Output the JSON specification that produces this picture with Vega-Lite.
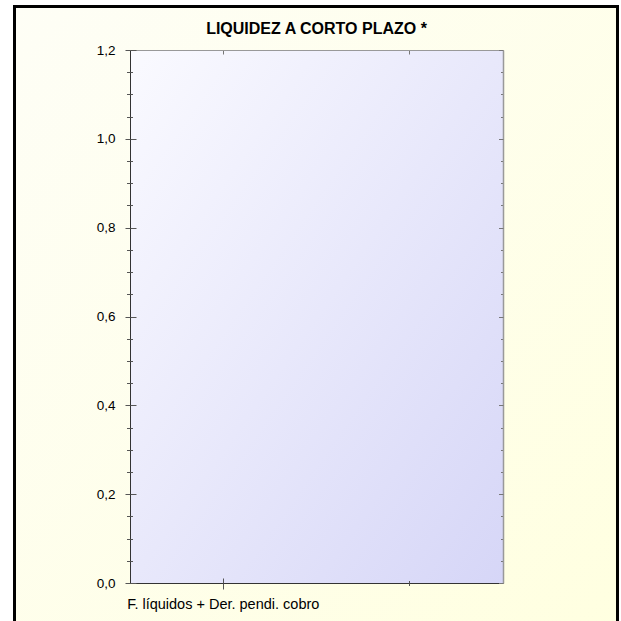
{
  "$schema": "https://vega.github.io/schema/vega-lite/v6.json",
  "width": 373,
  "height": 533,
  "autosize": {"type": "none"},
  "padding": {"left": 130, "top": 50, "right": 118, "bottom": 38},
  "background": "white",
  "title": {
    "text": "LIQUIDEZ A CORTO PLAZO *",
    "font": "Liberation Sans",
    "fontSize": 16,
    "fontWeight": "bold",
    "color": "#000000",
    "anchor": "middle",
    "frame": "group",
    "baseline": "alphabetic",
    "offset": -45
  },
  "data": {
    "values": [
      {"concepto": "F. líquidos + Der. pendi. cobro", "valor": 0},
      {"concepto": " ", "valor": 0}
    ]
  },
  "layer": [
    {
      "data": {"values": [{}]},
      "layer": [
        {
          "mark": {
            "type": "rect",
            "stroke": "#000000",
            "strokeWidth": 3,
            "clip": false,
            "fill": {
              "gradient": "linear",
              "x1": 0, "y1": 0, "x2": 1, "y2": 1,
              "stops": [
                {"offset": 0, "color": "#fefef6"},
                {"offset": 1, "color": "#ffffe0"}
              ]
            }
          },
          "encoding": {
            "x": {"datum": -0.30965, "type": "quantitative", "scale": {"domain": [0, 1], "nice": false, "zero": false}, "axis": null},
            "x2": {"datum": 1.30697},
            "y": {"datum": 1.29794, "type": "quantitative", "scale": {"domain": [0, 1.2], "nice": false}, "axis": null},
            "y2": {"datum": -0.12}
          }
        },
        {
          "mark": {
            "type": "rect",
            "clip": false,
            "fill": {
              "gradient": "linear",
              "x1": 0, "y1": 0, "x2": 1, "y2": 1,
              "stops": [
                {"offset": 0, "color": "#fafaff"},
                {"offset": 1, "color": "#d6d6f7"}
              ]
            }
          },
          "encoding": {
            "x": {"datum": 0, "type": "quantitative", "scale": {"domain": [0, 1], "nice": false, "zero": false}, "axis": null},
            "x2": {"datum": 1},
            "y": {"datum": 0, "type": "quantitative", "scale": {"domain": [0, 1.2], "nice": false}, "axis": null},
            "y2": {"datum": 1.2}
          }
        }
      ]
    },
    {
      "layer": [
        {
          "mark": {"type": "bar"},
          "encoding": {
            "x": {
              "field": "concepto", "type": "nominal",
              "sort": ["F. líquidos + Der. pendi. cobro", " "],
              "scale": {"paddingInner": 0, "paddingOuter": 0},
              "axis": {
                "orient": "bottom", "title": null, "zindex": 2,
                "values": ["F. líquidos + Der. pendi. cobro"],
                "tickSize": 6, "labelPadding": 8, "labelAngle": 0,
                "labelLimit": 0, "labelOverlap": false,
                "labelFontSize": 14.5,
                "domain": true, "domainColor": "#333333"
              }
            },
            "y": {
              "field": "valor", "type": "quantitative",
              "scale": {"domain": [0, 1.2], "nice": false},
              "axis": {
                "orient": "left", "title": null, "zindex": 2,
                "values": [0, 0.2, 0.4, 0.6, 0.8, 1.0, 1.2],
                "tickSize": 5, "labelPadding": 10,
                "labelFontSize": 13.5,
                "labelExpr": "replace(format(datum.value, '.1f'), '.', ',')",
                "domain": true, "domainColor": "#333333"
              }
            }
          }
        },
        {
          "mark": {"type": "bar"},
          "encoding": {
            "x": {
              "field": "concepto", "type": "nominal",
              "sort": ["F. líquidos + Der. pendi. cobro", " "],
              "scale": {"paddingInner": 0, "paddingOuter": 0},
              "axis": {
                "orient": "bottom", "title": null, "zindex": 2,
                "values": ["F. líquidos + Der. pendi. cobro"],
                "tickSize": -5, "labels": false, "domain": false
              }
            },
            "y": {
              "field": "valor", "type": "quantitative",
              "scale": {"domain": [0, 1.2], "nice": false},
              "axis": {
                "orient": "left", "title": null, "zindex": 2,
                "values": [0, 0.2, 0.4, 0.6, 0.8, 1.0, 1.2],
                "tickSize": -6, "labels": false, "domain": false
              }
            }
          }
        },
        {
          "mark": {"type": "bar"},
          "encoding": {
            "x": {
              "field": "concepto", "type": "nominal",
              "sort": ["F. líquidos + Der. pendi. cobro", " "],
              "scale": {"paddingInner": 0, "paddingOuter": 0},
              "axis": {
                "orient": "bottom", "title": null, "zindex": 2,
                "values": [" "],
                "tickSize": 2.5, "labels": false, "domain": false
              }
            },
            "y": {
              "field": "valor", "type": "quantitative",
              "scale": {"domain": [0, 1.2], "nice": false},
              "axis": {
                "orient": "left", "title": null, "zindex": 2,
                "values": [0.05, 0.1, 0.15, 0.25, 0.3, 0.35, 0.45, 0.5, 0.55, 0.65, 0.7, 0.75, 0.85, 0.9, 0.95, 1.05, 1.1, 1.15],
                "tickSize": 3.5, "labels": false, "domain": false
              }
            }
          }
        },
        {
          "mark": {"type": "bar"},
          "encoding": {
            "x": {
              "field": "concepto", "type": "nominal",
              "sort": ["F. líquidos + Der. pendi. cobro", " "],
              "scale": {"paddingInner": 0, "paddingOuter": 0},
              "axis": {
                "orient": "bottom", "title": null, "zindex": 2,
                "values": [" "],
                "tickSize": -2.5, "labels": false, "domain": false
              }
            },
            "y": {
              "field": "valor", "type": "quantitative",
              "scale": {"domain": [0, 1.2], "nice": false},
              "axis": {
                "orient": "left", "title": null, "zindex": 2,
                "values": [0.05, 0.1, 0.15, 0.25, 0.3, 0.35, 0.45, 0.5, 0.55, 0.65, 0.7, 0.75, 0.85, 0.9, 0.95, 1.05, 1.1, 1.15],
                "tickSize": -2.5, "labels": false, "domain": false
              }
            }
          }
        },
        {
          "mark": {"type": "bar"},
          "encoding": {
            "x": {
              "field": "concepto", "type": "nominal",
              "sort": ["F. líquidos + Der. pendi. cobro", " "],
              "scale": {"paddingInner": 0, "paddingOuter": 0},
              "axis": {
                "orient": "top", "title": null, "zindex": 2,
                "tickSize": -4, "labels": false,
                "domain": true, "domainColor": "#999999", "tickColor": "#777777"
              }
            },
            "y": {
              "field": "valor", "type": "quantitative",
              "scale": {"domain": [0, 1.2], "nice": false},
              "axis": {
                "orient": "right", "title": null, "zindex": 2,
                "values": [0.05, 0.1, 0.15, 0.25, 0.3, 0.35, 0.45, 0.5, 0.55, 0.65, 0.7, 0.75, 0.85, 0.9, 0.95, 1.05, 1.1, 1.15],
                "tickSize": -2.5, "labels": false,
                "domain": true, "domainColor": "#999999", "domainWidth": 1.5, "tickColor": "#777777"
              }
            }
          }
        },
        {
          "mark": {"type": "bar"},
          "encoding": {
            "x": {
              "field": "concepto", "type": "nominal",
              "sort": ["F. líquidos + Der. pendi. cobro", " "],
              "scale": {"paddingInner": 0, "paddingOuter": 0},
              "axis": null
            },
            "y": {
              "field": "valor", "type": "quantitative",
              "scale": {"domain": [0, 1.2], "nice": false},
              "axis": {
                "orient": "right", "title": null, "zindex": 2,
                "values": [0, 0.2, 0.4, 0.6, 0.8, 1.0, 1.2],
                "tickSize": -4.5, "labels": false, "domain": false, "tickColor": "#777777"
              }
            }
          }
        }
      ],
      "resolve": {"axis": {"x": "independent", "y": "independent"}}
    }
  ],
  "resolve": {
    "scale": {"x": "independent"},
    "axis": {"x": "independent", "y": "independent"}
  },
  "config": {
    "view": {"stroke": null},
    "axis": {
      "grid": false,
      "zindex": 2,
      "labelFont": "Liberation Sans",
      "labelColor": "#000000",
      "tickColor": "#555555",
      "tickWidth": 1,
      "domainWidth": 1
    }
  }
}
